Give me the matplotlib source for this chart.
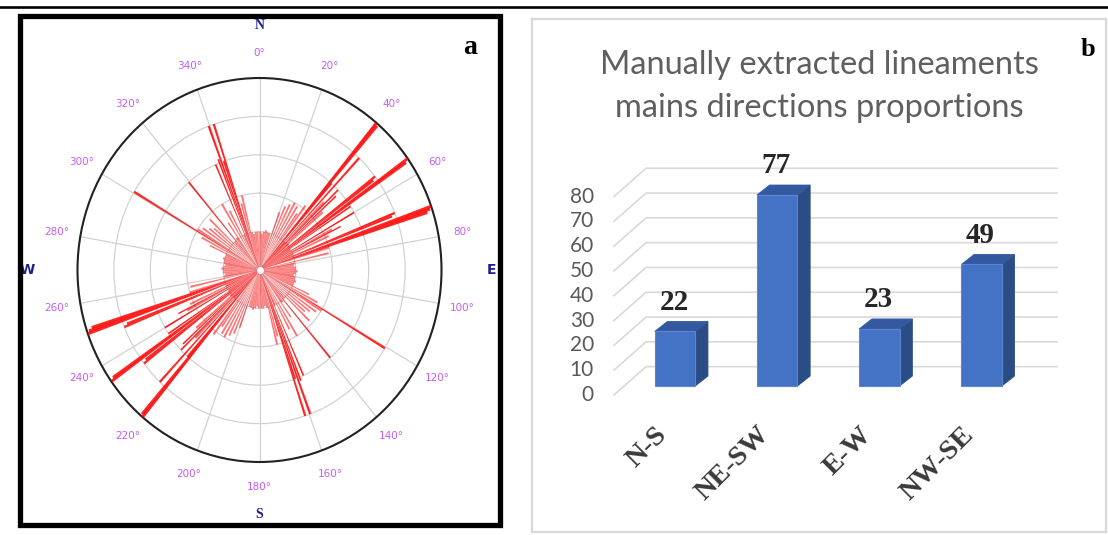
import numpy as np
import matplotlib
matplotlib.use("Agg")
import matplotlib.pyplot as plt
from matplotlib.patches import Rectangle, Polygon

# ---- panel a: rose diagram (azimuths in degrees, 0-180, mirrored on draw) ----
long_az = [40.0, 40.7, 43.2, 41.3, 46.0, 47.5, 52.5, 53.3, 54.5, 55.2, 56.5, 60.0,
           63.0, 68.2, 69.0, 70.6, 71.3, 72.0, 120.6, 139.6, 156.3, 158.5, 159.6,
           160.9, 161.7]
long_len = [1.0, 0.99, 0.80, 0.60, 0.60, 0.57, 0.80, 0.78, 1.0, 0.98, 0.60, 0.60,
            0.50, 0.80, 0.78, 1.0, 0.99, 0.97, 0.80, 0.60, 0.60, 0.62, 0.80,
            0.60, 0.80]

mid_az = [20, 23, 26, 29, 32, 35, 37, 45, 49, 62, 65, 73, 77, 115, 118, 122, 125,
          128, 131, 134, 145, 149, 152, 164, 166]
mid_len = [0.32, 0.36, 0.38, 0.40, 0.39, 0.36, 0.42, 0.50, 0.46, 0.45, 0.42, 0.40,
           0.39, 0.30, 0.36, 0.40, 0.38, 0.35, 0.33, 0.38, 0.30, 0.40, 0.35, 0.36,
           0.40]

inner_az = [1, 4, 7, 10, 13, 16, 44, 50, 58, 66, 80, 83, 86, 89, 92, 95, 98, 101,
            104, 107, 110, 113, 137, 143, 155, 168, 171, 174, 177]
inner_len = [0.20, 0.19, 0.20, 0.21, 0.20, 0.20, 0.20, 0.21, 0.20, 0.20, 0.20, 0.19,
             0.20, 0.20, 0.21, 0.20, 0.19, 0.20, 0.20, 0.21, 0.20, 0.20, 0.20,
             0.21, 0.20, 0.20, 0.19, 0.20, 0.20]

angle_ticks = list(range(0, 360, 20))
compass = [("N", 0), ("E", 90), ("S", 180), ("W", 270)]

# ---- panel b: bar chart ----
cats = ["N-S", "NE-SW", "E-W", "NW-SE"]
counts = [22, 77, 23, 49]
yticks = [0, 10, 20, 30, 40, 50, 60, 70, 80]

W, H = 1108, 535
fig = plt.figure(figsize=(W / 100, H / 100), dpi=100)
fig.patch.set_facecolor("white")


def fx(px):
    return px / W


def fy(py):
    return 1 - py / H


# frames
fig.add_artist(plt.Line2D([0, 1], [fy(6.5), fy(6.5)], color="black", lw=1.9,
                          transform=fig.transFigure))
fig.add_artist(Rectangle((fx(19.5), fy(524.5)), fx(481), 509 / H, fill=False,
                         ec="black", lw=3.8, transform=fig.transFigure))


def mirror(a):
    a = np.asarray(a, dtype=float)
    return np.deg2rad(np.concatenate([a, a + 180]))


def dup(v):
    return np.concatenate([v, v])


# polar axes (slightly elliptic as in the source image)
cx, cy, rx, ry = 259.5, 270, 182, 192
pax = fig.add_axes([fx(cx - rx), fy(cy + ry), 2 * rx / W, 2 * ry / H], projection="polar")
pax.set_aspect("auto")
pax.set_theta_zero_location("N")
pax.set_theta_direction(-1)
pax.set_ylim(0, 1)
pax.set_rticks([0.2, 0.4, 0.6, 0.8])
pax.set_yticklabels([])
pax.set_thetagrids(angle_ticks, labels=[""] * len(angle_ticks))
pax.grid(color="#d2d2d2", lw=0.9)
pax.spines["polar"].set_color("#222222")
pax.spines["polar"].set_linewidth(1.5)

pax.bar(mirror(inner_az), dup(inner_len), width=np.deg2rad(2.9), bottom=0,
        color="red", alpha=0.5, lw=0, zorder=3)
pax.bar(mirror(mid_az), dup(mid_len), width=np.deg2rad(1.6), bottom=0,
        color="red", alpha=0.55, lw=0, zorder=3)
pax.bar(mirror(long_az), dup(long_len), width=np.deg2rad(0.9), bottom=0,
        color="red", alpha=0.85, lw=0, zorder=4)
pax.plot([0], [0], "o", color="white", ms=4, zorder=5)

for a in angle_ticks:
    pax.text(np.deg2rad(a), 1.13, f"{a}°", color="#c45cf7", fontsize=7.5,
             ha="center", va="center", clip_on=False)
for lab, a in compass:
    pax.text(np.deg2rad(a), 1.275, lab, color="#1f1f8f", fontsize=10, fontweight="bold",
             family="Liberation Serif" if lab in "NS" else "DejaVu Sans",
             ha="center", va="center", clip_on=False)

fig.text(fx(470), fy(48), "a", fontsize=20, fontweight="bold", family="Liberation Serif",
         ha="center", va="center")

# bar chart axes: data x = category index, data y = value
x0, sx = 675.0, 102.2      # px of category 0, px per category
y0, sy = 386.0, 2.48       # px of value 0 (bar front), px per unit
L, R, T, B = 532, 1106, 19, 532
bax = fig.add_axes([fx(L), fy(B), (R - L) / W, (B - T) / H])
bax.set_xlim((L - x0) / sx, (R - x0) / sx)
bax.set_ylim((y0 - B) / sy, (y0 - T) / sy)
bax.set_xticks([])
bax.set_yticks([])
for s in bax.spines.values():
    s.set_color("#d9d9d9")
    s.set_linewidth(1.6)

front_dx, back_dx, end_dx = (614 - x0) / sx, (646 - x0) / sx, (1057 - x0) / sx
front_dy, back_dy = -3.6, 7.8
for t in yticks:
    bax.plot([front_dx, back_dx, end_dx], [t + front_dy, t + back_dy, t + back_dy],
             color="#d9d9d9", lw=1.2, zorder=1)
    bax.text((594 - x0) / sx, t + front_dy, str(t), ha="right", va="center",
             fontsize=15, color="#595959", family="Lato")

bw = 40.5 / sx
ddx, ddy = 12.7 / sx, 10 / sy
for i, v in enumerate(counts):
    xl, xr = i - bw / 2, i + bw / 2
    bax.add_patch(Polygon([(xr, 0), (xr + ddx, ddy), (xr + ddx, v + ddy), (xr, v)],
                          closed=True, fc="#2b4d86", ec="#2b4d86", lw=0.6, zorder=3))
    bax.add_patch(Polygon([(xl, v), (xl + ddx, v + ddy), (xr + ddx, v + ddy), (xr, v)],
                          closed=True, fc="#3459a0", ec="#3459a0", lw=0.6, zorder=3))
    bax.add_patch(Rectangle((xl, 0), bw, v, fc="#4472c4", ec="#5b86d0", lw=0.8, zorder=4))
    bax.text(i - 0.01, v + 11.8, str(v), ha="center", va="center", fontsize=21,
             fontweight="bold", family="Liberation Serif", color="#262626", zorder=5)
    bax.text(i - 0.2, -14.5, cats[i], ha="right", va="top", rotation=45,
             rotation_mode="anchor", fontsize=20.5, fontweight="bold",
             family="Liberation Serif", color="#3a3a3a", zorder=5)

fig.text(fx(819), fy(65), "Manually extracted lineaments", ha="center", va="center",
         fontsize=23.5, color="#5f5f5f", family="Lato")
fig.text(fx(819), fy(108), "mains directions proportions", ha="center", va="center",
         fontsize=23.5, color="#5f5f5f", family="Lato")
fig.text(fx(1088), fy(50), "b", fontsize=19, fontweight="bold", family="Liberation Serif",
         ha="center", va="center")

fig.savefig("out.png", dpi=100, facecolor="white")
